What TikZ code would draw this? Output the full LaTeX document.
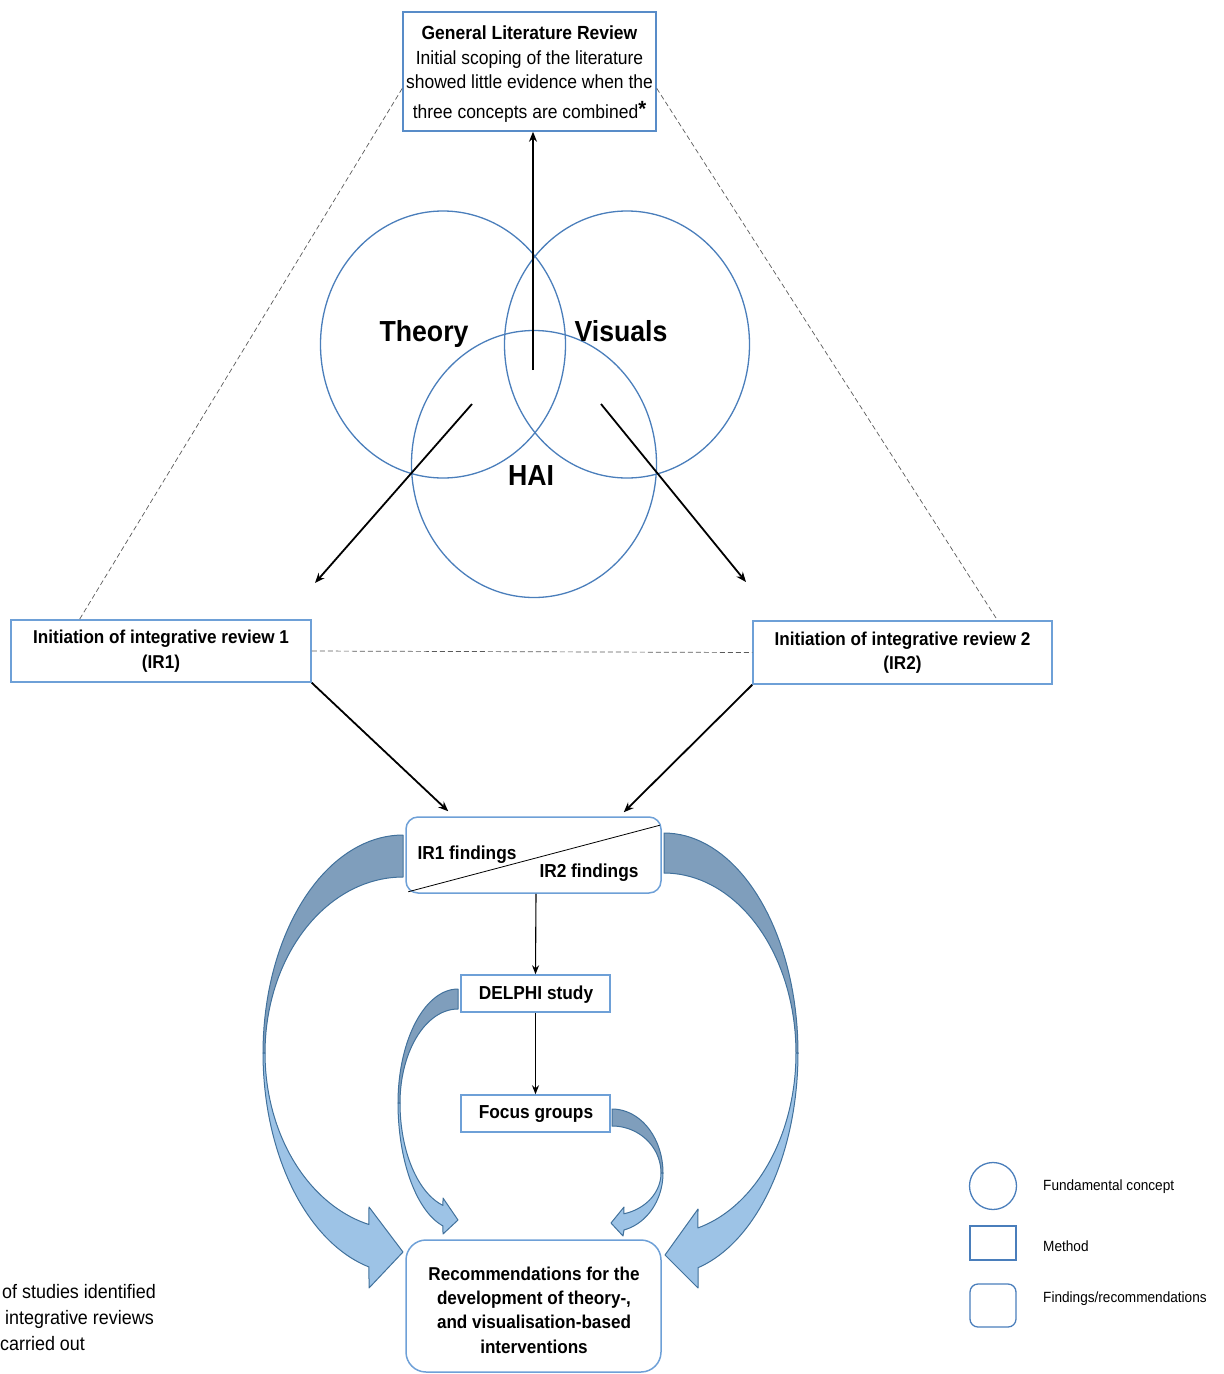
\documentclass[tikz,border=0pt]{standalone}
\usepackage{fontspec}
\setmainfont{Liberation Sans}[FakeStretch=0.92]
\usetikzlibrary{arrows.meta,calc,shapes.geometric}

\definecolor{circleblue}{RGB}{74,126,187}
\definecolor{boxblue}{RGB}{110,160,215}
\definecolor{topblue}{RGB}{88,140,200}
\definecolor{ribbonedge}{RGB}{65,113,156}
\definecolor{ribbondark}{RGB}{127,158,188}
\definecolor{ribbonlight}{RGB}{157,195,230}
\definecolor{dashgray}{RGB}{90,90,90}

\begin{document}
\begin{tikzpicture}[x=1pt,y=-1pt,
  concept/.style={ellipse,draw=circleblue,line width=1.3pt,minimum width=245pt,minimum height=267pt,inner sep=0pt},
  conceptlabel/.style={anchor=base,font=\fontsize{29}{34}\selectfont\bfseries,inner sep=0pt},
  methodbox/.style={draw=boxblue,line width=1.5pt,fill=white,inner sep=0pt,align=center,
    font=\fontsize{18.6}{24.5}\selectfont\bfseries},
  findingbox/.style={methodbox,rounded corners=12pt},
  boxtext/.style={font=\fontsize{18.8}{24}\selectfont\bfseries,inner sep=0pt},
  flow/.style={-{Stealth[length=10pt,width=8pt]},line width=1.8pt},
  thinflow/.style={-{Stealth[length=9pt,width=7pt]},line width=1.1pt},
  guide/.style={dash pattern=on 5pt off 3pt,draw=dashgray,line width=0.7pt},
  ribbonback/.style={fill=ribbondark,draw=ribbonedge,line width=1pt,line join=round},
  ribbonfront/.style={fill=ribbonlight,draw=ribbonedge,line width=1pt,line join=round},
  legendtext/.style={anchor=west,inner sep=0pt,font=\fontsize{14.8}{18}\selectfont},
  note/.style={anchor=west,inner sep=0pt,font=\fontsize{19.5}{24}\selectfont},
]
\useasboundingbox (0,0) rectangle (1224,1374);

% three fundamental concepts
\node[concept] (theory)  at (443,344.5) {};
\node[concept] (visuals) at (627,344.5) {};
\node[concept] (hai)     at (534,464) {};
\node[conceptlabel] (theorylbl)  at (424,341) {Theory};
\node[conceptlabel] (visualslbl) at (621,341) {Visuals};
\node[conceptlabel] (hailbl)     at (531,485) {HAI};

% general literature review
\node[methodbox,draw=topblue,minimum width=253pt,minimum height=119pt] (top) at (529.5,71.5) {};
\node[align=center,inner sep=0pt,font=\fontsize{19}{24.5}\selectfont] (toptext) at (529.5,74)
  {\textbf{General Literature Review}\\Initial scoping of the literature\\
   showed little evidence when the\\[5pt]three concepts are combined\raisebox{2pt}{\fontsize{22}{24}\selectfont\textbf{*}}};

% integrative reviews
\node[methodbox,minimum width=300pt,minimum height=62pt] (ir1) at (161,651)
  {Initiation of integrative review 1\\(IR1)};
\node[methodbox,minimum width=299pt,minimum height=63pt] (ir2) at (902.5,652.5)
  {Initiation of integrative review 2\\(IR2)};

% findings, Delphi, focus groups, recommendations
\node[findingbox,minimum width=255pt,minimum height=76pt] (find) at (533.5,855) {};
\draw[line width=0.8pt] ([shift={(3pt,2pt)}]find.south west) -- ([shift={(-2pt,-9pt)}]find.north east);
\node[boxtext] (f1) at (467,855) {IR1 findings};
\node[boxtext] (f2) at (589,873) {IR2 findings};

\node[methodbox,minimum width=149pt,minimum height=37pt] (delphi) at (535.5,993.5) {};
\node[boxtext] (delphitext) at (536,994.5) {DELPHI study};
\node[methodbox,minimum width=149pt,minimum height=37pt] (focus) at (535.5,1113.5) {};
\node[boxtext] (focustext) at (536,1114.5) {Focus groups};
\node[findingbox,rounded corners=20pt,minimum width=255pt,minimum height=132pt] (rec) at (533.5,1306) {};
\node[align=center,inner sep=0pt,font=\fontsize{18.6}{24.3}\selectfont\bfseries] (rectext) at (534,1310)
  {Recommendations for the\\development of theory-,\\and visualisation-based\\interventions};

% arrows out of the concept overlap
\coordinate (hub) at (533,370);
\draw[flow] (hub) -- (hub |- top.south);
\coordinate (leftfrom) at (472,404);
\coordinate (leftto) at (315,583);
\coordinate (rightfrom) at (601,404);
\coordinate (rightto) at (746,582);
\draw[flow] (leftfrom) -- (leftto);
\draw[flow] (rightfrom) -- (rightto);

% guide lines
\draw[guide] ($(top.north west)!0.64!(top.south west)$) -- ($(ir1.north west)!0.23!(ir1.north east)$);
\draw[guide] ($(top.north east)!0.64!(top.south east)$) -- ($(ir2.north west)!0.816!(ir2.north east)$);
\draw[guide] (ir1.east) -- (ir2.west);

% reviews into findings
\draw[flow] (ir1.south east) -- ([xshift=43pt,yshift=5pt]find.north west);
\draw[flow] (ir2.south west) -- ([xshift=-38pt,yshift=4pt]find.north east);
\draw[thinflow] ([xshift=2.5pt]find.south) -- (delphi.north);
\draw[thinflow] (delphi.south) -- (focus.north);

% curved ribbon arrows towards the recommendations
% left outer ribbon
\draw[ribbonback] plot[domain=-90:-180,samples=40] ({403+140*cos(\x)},{1053+218*sin(\x)})
  -- plot[domain=180:270,samples=40] ({403+138*cos(\x)},{1053+176*sin(\x)}) -- cycle;
\draw[ribbonfront] plot[domain=180:104.06,samples=40] ({403+140*cos(\x)},{1053+220.6*sin(\x)})
  -- (369,1288) -- (403,1252) -- (369,1207)
  -- plot[domain=104.3:180,samples=40] ({403+138*cos(\x)},{1053+177*sin(\x)}) -- cycle;
% right outer ribbon
\draw[ribbonback] plot[domain=-90:0,samples=40] ({664+134*cos(\x)},{1053+220*sin(\x)})
  -- plot[domain=0:-90,samples=40] ({664+132*cos(\x)},{1053+180*sin(\x)}) -- cycle;
\draw[ribbonfront] plot[domain=0:75.3,samples=40] ({664+134*cos(\x)},{1053+222*sin(\x)})
  -- (698,1288) -- (665,1255) -- (698,1209)
  -- plot[domain=75.1:0,samples=40] ({664+132*cos(\x)},{1053+181*sin(\x)}) -- cycle;
% left inner ribbon (from the Delphi study)
\draw[ribbonback] plot[domain=-90:-180,samples=40] ({458+60*cos(\x)},{1103+114*sin(\x)})
  -- plot[domain=180:270,samples=40] ({458+58*cos(\x)},{1103+94*sin(\x)}) -- cycle;
\draw[ribbonfront] plot[domain=180:104.5,samples=40] ({458+60*cos(\x)},{1103+127*sin(\x)})
  -- (443,1234) -- (458,1220) -- (443,1198)
  -- plot[domain=105:180,samples=40] ({458+58*cos(\x)},{1103+106*sin(\x)}) -- cycle;
% right inner ribbon (from the focus groups)
\draw[ribbonback] plot[domain=-90:0,samples=40] ({612+51*cos(\x)},{1173+64*sin(\x)})
  -- plot[domain=0:-90,samples=40] ({612+49*cos(\x)},{1173+47*sin(\x)}) -- cycle;
\draw[ribbonfront] plot[domain=0:76.4,samples=40] ({612+51*cos(\x)},{1173+58.6*sin(\x)})
  -- (623,1236) -- (611,1223) -- (624,1207)
  -- plot[domain=76:0,samples=40] ({612+49*cos(\x)},{1173+42*sin(\x)}) -- cycle;

% legend
\node[circle,draw=circleblue,line width=1.3pt,minimum size=47pt,inner sep=0pt] (legcircle) at (993,1186) {};
\node[draw=circleblue,line width=1.3pt,minimum width=46pt,minimum height=34pt,inner sep=0pt] (legrect) at (993,1243) {};
\node[draw=circleblue,line width=1.3pt,rounded corners=8pt,minimum width=46pt,minimum height=43pt,inner sep=0pt] (leground) at (993,1305.5) {};
\node[legendtext] (legcircletxt) at (1043,1187) {Fundamental concept};
\node[legendtext] (legrecttxt) at (1043,1246) {Method};
\node[legendtext] (legroundtxt) at (1043,1299) {Findings/recommendations};

% note at the lower left
\node[note] (note1) at (2,1292) {of studies identified};
\node[note] (note2) at (5,1319) {integrative reviews};
\node[note] (note3) at (0,1344) {carried out};
\end{tikzpicture}
\end{document}
